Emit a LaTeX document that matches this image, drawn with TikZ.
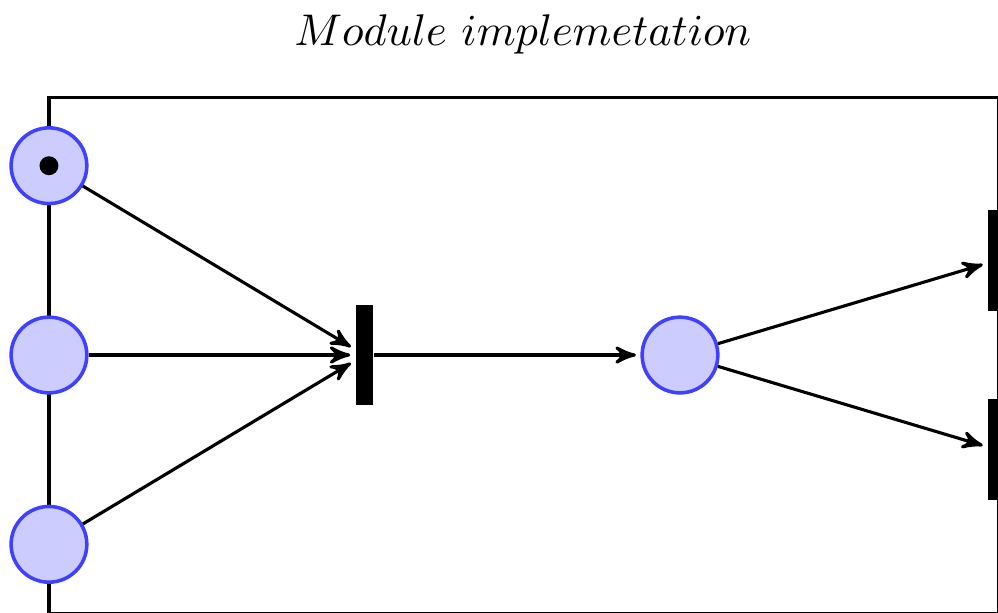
\documentclass[tikz,border=0pt]{standalone}
\usetikzlibrary{arrows,petri}
\begin{document}
\begin{tikzpicture}[
  place/.style={circle,thick,draw=blue!75,fill=blue!20,minimum size=6mm,inner sep=0pt},
  token/.style={circle,fill=black,minimum size=1.5mm,inner sep=0pt},
  transition/.style={rectangle,fill=black,minimum height=8mm,minimum width=4pt,inner sep=0pt},
  post/.style={->,shorten >=1pt,>=stealth',line width=0.7pt},
  frame/.style={draw,thick}
]
\useasboundingbox (-0.388,-2.044) rectangle (7.520,2.813);

% module frame and title
\draw[frame] (0,-2.054) rectangle (7.526,2.04);
\node[anchor=base] (title) at (3.755,2.456) {$Module\ implemetation$};

% input places on the left side of the frame
\node[place] (p1) at (0,1.5) {};
\node[token] (tok) at (p1.center) {};
\node[place] (p2) at (0,0) {};
\node[place] (p3) at (0,-1.5) {};

% inner transition and place
\node[transition] (t1) at (2.5,0) {};
\node[place] (p4) at (5,0) {};

% output transitions on the right side of the frame
\node[transition] (t2) at (7.51,0.75) {};
\node[transition] (t3) at (7.51,-0.75) {};

% arcs
\draw[post] (p1) -- (t1);
\draw[post] (p2) -- (t1);
\draw[post] (p3) -- (t1);
\draw[post] (t1) -- (p4);
\draw[post] (p4) -- (t2);
\draw[post] (p4) -- (t3);
\end{tikzpicture}
\end{document}
